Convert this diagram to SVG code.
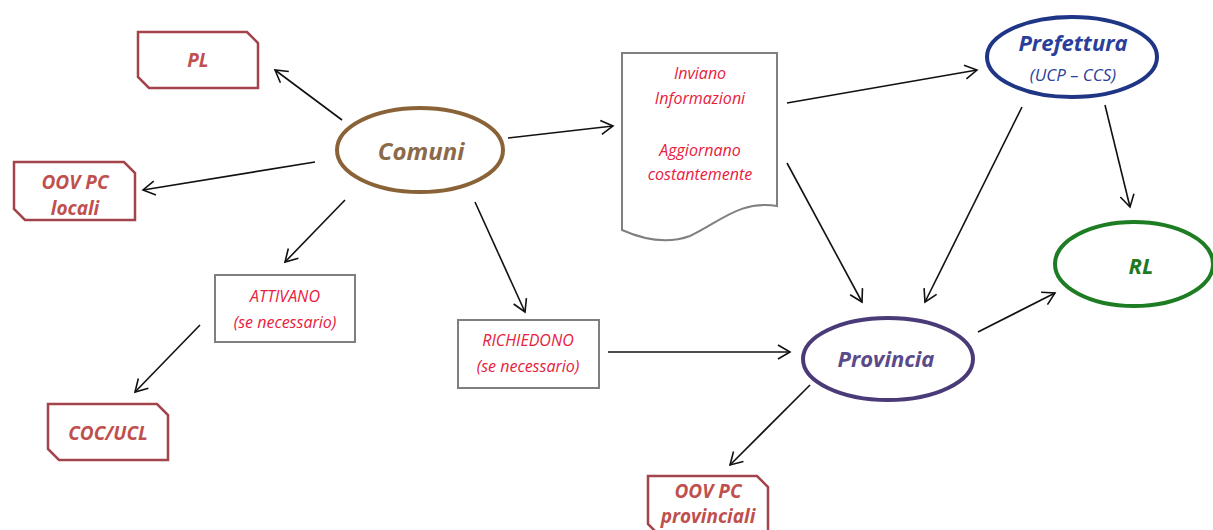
<svg xmlns="http://www.w3.org/2000/svg" width="1213" height="530" viewBox="0 0 1213 530">
<style>
text{font-family:"Open Sans","Liberation Sans",sans-serif;font-style:italic;text-anchor:middle}
.rbox{fill:#fff;stroke:#a3434c;stroke-width:2.5}
.rt{fill:#c0504d;font-weight:bold;font-size:19px}
.gbox{fill:#fff;stroke:#7f7f7f;stroke-width:2}
.gt{fill:#e8203c;font-size:16px}
.conn line{stroke:#111;stroke-width:1.6;marker-end:url(#arr)}
</style>
<defs>
<marker id="arr" markerUnits="userSpaceOnUse" markerWidth="16" markerHeight="16" refX="13" refY="8" orient="auto">
<path d="M1,1 L13,8 L1,15" fill="none" stroke="#111" stroke-width="1.6"/>
</marker>
</defs>
<g id="pl">
<path class="rbox" d="M138,32 H247 L258,43 V88 H149 L138,77 Z"/>
<text class="rt" x="198" y="67">PL</text>
</g>
<g id="oov-locali">
<path class="rbox" d="M14,162 H124 L135,173 V220 H25 L14,209 Z"/>
<text class="rt" x="75" y="189">OOV PC</text>
<text class="rt" x="75" y="215">locali</text>
</g>
<g id="coc">
<path class="rbox" d="M48,404 H157 L168,415 V460 H59 L48,449 Z"/>
<text class="rt" x="108" y="440">COC/UCL</text>
</g>
<g id="oov-prov">
<path class="rbox" d="M648,476 H757 L768,487 V535 H659 L648,524 Z"/>
<text class="rt" x="708" y="498" font-size="18">OOV PC</text>
<text class="rt" x="708" y="523" font-size="18">provinciali</text>
</g>
<g id="comuni">
<ellipse cx="420" cy="150" rx="83" ry="42" fill="#fff" stroke="#8a6238" stroke-width="4"/>
<text x="421" y="160" font-size="24" font-weight="bold" fill="#8b6a4a">Comuni</text>
</g>
<g id="documento">
<path d="M622,53 H777 V206 C740,200 720,222 690,236 C665,245 640,238 622,230 Z" fill="#fff" stroke="#808080" stroke-width="2"/>
<text class="gt" x="700" y="79">Inviano</text>
<text class="gt" x="700" y="104">Informazioni</text>
<text class="gt" x="700" y="156">Aggiornano</text>
<text class="gt" x="700" y="180">costantemente</text>
</g>
<g id="prefettura">
<ellipse cx="1072" cy="57" rx="85" ry="40" fill="#fff" stroke="#1f3585" stroke-width="4"/>
<text x="1073" y="51" font-size="22" font-weight="bold" fill="#2a3f9a">Prefettura</text>
<text x="1073" y="81" font-size="17" fill="#2a3f9a">(UCP – CCS)</text>
</g>
<g id="rl">
<ellipse cx="1134" cy="264" rx="79" ry="42" fill="#fff" stroke="#1e7d23" stroke-width="4"/>
<text x="1141" y="274" font-size="22" font-weight="bold" fill="#1f7a1f">RL</text>
</g>
<g id="attivano">
<rect class="gbox" x="215" y="275" width="140" height="67"/>
<text class="gt" x="285" y="302">ATTIVANO</text>
<text class="gt" x="285" y="328">(se necessario)</text>
</g>
<g id="richiedono">
<rect class="gbox" x="458" y="320" width="141" height="68"/>
<text class="gt" x="528" y="346">RICHIEDONO</text>
<text class="gt" x="528" y="372">(se necessario)</text>
</g>
<g id="provincia">
<ellipse cx="888" cy="359" rx="85" ry="41" fill="#fff" stroke="#4a3a78" stroke-width="4"/>
<text x="886" y="367" font-size="22" font-weight="bold" fill="#5a4a8a">Provincia</text>
</g>
<g class="conn" id="connectors">
<line x1="342" y1="120" x2="275" y2="70"/>
<line x1="315" y1="162" x2="143" y2="190"/>
<line x1="345" y1="200" x2="285" y2="262"/>
<line x1="200" y1="325" x2="135" y2="392"/>
<line x1="475" y1="202" x2="525" y2="312"/>
<line x1="508" y1="138" x2="613" y2="126"/>
<line x1="787" y1="103" x2="977" y2="70"/>
<line x1="787" y1="163" x2="862" y2="302"/>
<line x1="1022" y1="107" x2="925" y2="302"/>
<line x1="1105" y1="105" x2="1130" y2="207"/>
<line x1="608" y1="352" x2="790" y2="352"/>
<line x1="978" y1="332" x2="1055" y2="293"/>
<line x1="810" y1="385" x2="730" y2="465"/>
</g>
</svg>
